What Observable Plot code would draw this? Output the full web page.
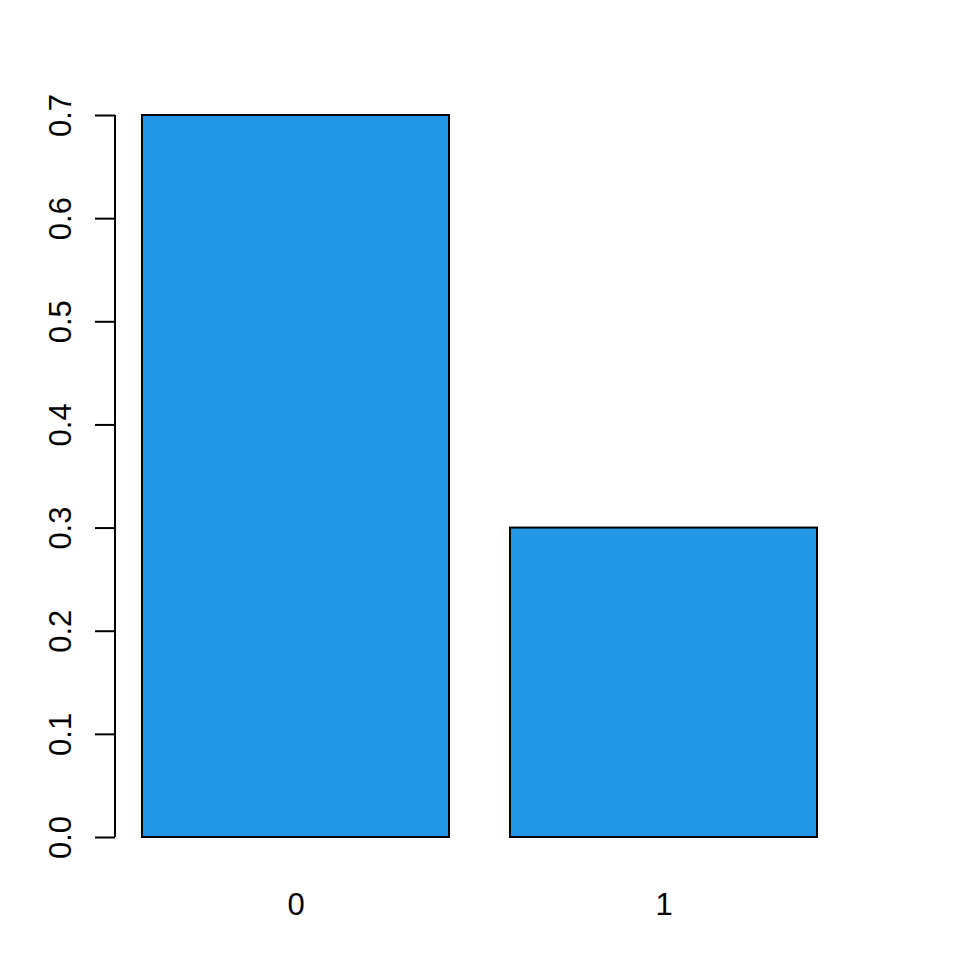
<!DOCTYPE html>
<html>
<head>
<meta charset="utf-8">
<script src="https://cdn.jsdelivr.net/npm/d3@7"></script>
<script src="https://cdn.jsdelivr.net/npm/@observablehq/plot@0.6"></script>
<style>
  html, body { margin: 0; padding: 0; background: #ffffff; }
  #chart svg { display: block; }
</style>
</head>
<body>
<div id="chart"></div>
<script>
const categories = ["0", "1"];
const values = [0.7, 0.3];
const yTicks = [0, 0.1, 0.2, 0.3, 0.4, 0.5, 0.6, 0.7];

const data = categories.map((c, i) => ({cat: c, value: values[i]}));
const fmt = d3.format(".1f");
const FONT = "'Liberation Sans', Arial, sans-serif";

const axisLine = (index, scales, vals, dims) => {
  const l = document.createElementNS("http://www.w3.org/2000/svg", "line");
  l.setAttribute("x1", dims.marginLeft);
  l.setAttribute("x2", dims.marginLeft);
  l.setAttribute("y1", scales.y(d3.min(yTicks)));
  l.setAttribute("y2", scales.y(d3.max(yTicks)));
  l.setAttribute("stroke", "black");
  l.setAttribute("stroke-width", 2);
  return l;
};

const chart = Plot.plot({
  width: 960,
  height: 960,
  marginTop: 115,
  marginBottom: 123,
  marginLeft: 115,
  marginRight: 143,
  style: {background: "#ffffff", fontFamily: FONT},
  x: {type: "band", domain: categories, range: [142, 817], paddingInner: 0.2 / 1.2, paddingOuter: 0, axis: null},
  y: {domain: [0, 0.7], axis: null},
  marks: [
    Plot.barY(data, {x: "cat", y: "value", fill: "#2396e5", stroke: "black", strokeWidth: 2}),
    Plot.axisY({ticks: yTicks, tickSize: 20, tickFormat: () => "", strokeWidth: 2, label: null}),
    axisLine,
    Plot.text(yTicks, {
      y: d => d, text: d => fmt(d), frameAnchor: "left", dx: -45,
      rotate: -90, textAnchor: "middle", lineAnchor: "bottom",
      fontSize: 31, fill: "black", fontFamily: FONT
    }),
    Plot.text(categories, {
      x: d => d, text: d => d, frameAnchor: "bottom", dy: 77,
      lineAnchor: "bottom", fontSize: 31, fill: "black", fontFamily: FONT
    })
  ]
});
document.getElementById("chart").appendChild(chart);
</script>
</body>
</html>
